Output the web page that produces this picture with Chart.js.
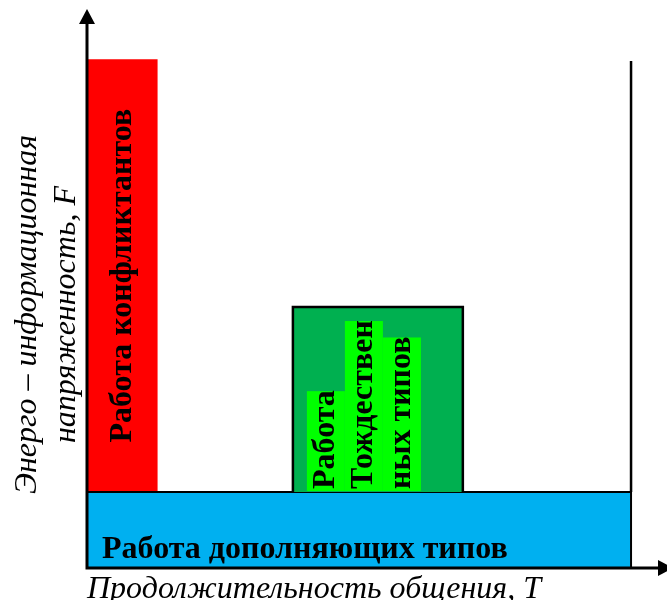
<!DOCTYPE html>
<html lang="ru">
<head>
<meta charset="utf-8">
<title>Энерго-информационная напряженность</title>
<script src="https://cdn.jsdelivr.net/npm/chart.js@4.4.1/dist/chart.umd.min.js"></script>
<style>
  html, body { margin: 0; padding: 0; background: #fff; }
  #wrap { width: 667px; height: 600px; }
</style>
</head>
<body>
<div id="wrap"><canvas id="chart"></canvas></div>
<script>
// zones of the diagram: x = T (0..100), y = F (0..100)
const zoneNames = ['Работа конфликтантов', 'Работа дополняющих типов', 'Работа Тождественных типов'];
const zoneStart = [0, 0, 35.5];
const zoneEnd = [12.2, 93.8, 64.8];
const zoneBase = [0, 0, 13.6];
const zoneTop = [91, 13.6, 46.7];
const zoneColors = ['#ff0000', '#00b0f0', '#00b050'];
const zoneBorders = [0, 2, 2.5];

// the text of the green zone, split in columns as in the original
const identityLines = ['Работа', 'Тождествен', 'ных типов'];

// right-hand boundary line
const boundaryT = [93.8, 93.8];
const boundaryF = [13.6, 90.7];

const yTitleLines = ['Энерго – информационная', 'напряженность, F'];
const xTitle = 'Продолжительность общения, T';

const SERIF = '"Liberation Serif", "Times New Roman", serif';

function zoneOutline(i) {
    return [
        { x: zoneStart[i], y: zoneBase[i] },
        { x: zoneStart[i], y: zoneTop[i] },
        { x: zoneEnd[i], y: zoneTop[i] },
        { x: zoneEnd[i], y: zoneBase[i] }
    ];
}

const datasets = zoneNames.map((name, i) => ({
    label: name,
    data: zoneOutline(i),
    showLine: true,
    backgroundColor: zoneColors[i],
    borderColor: '#000',
    borderWidth: zoneBorders[i],
    fill: { value: zoneBase[i] },
    order: 10 - i,
    clip: false
}));
datasets.push({
    label: 'граница',
    data: boundaryT.map((t, i) => ({ x: t, y: boundaryF[i] })),
    showLine: true,
    borderColor: '#000',
    borderWidth: 2.5,
    fill: false,
    order: 1,
    clip: false
});

const zoneLabels = {
    id: 'zoneLabels',
    afterDatasetsDraw(chart) {
        const { ctx, scales: { x, y } } = chart;
        ctx.save();
        ctx.font = 'bold 32px ' + SERIF;

        // red zone: vertical text centred in the part above the blue zone
        const rx = (x.getPixelForValue(zoneStart[0]) + x.getPixelForValue(zoneEnd[0])) / 2;
        const ry = (y.getPixelForValue(zoneTop[0]) + y.getPixelForValue(zoneTop[1])) / 2;
        ctx.save();
        ctx.translate(rx, ry);
        ctx.rotate(-Math.PI / 2);
        ctx.fillStyle = '#000';
        ctx.textAlign = 'center';
        ctx.textBaseline = 'middle';
        ctx.fillText(zoneNames[0], 0, 0);
        ctx.restore();

        // blue zone: bottom left
        ctx.fillStyle = '#000';
        ctx.textAlign = 'left';
        ctx.textBaseline = 'alphabetic';
        ctx.fillText(zoneNames[1], x.getPixelForValue(zoneStart[1]) + 15, y.getPixelForValue(zoneBase[1]) - 10);

        // green zone: highlighted columns of vertical text
        const lh = 38;
        const gx = x.getPixelForValue(zoneStart[2]) + 14;
        const gy = y.getPixelForValue(zoneBase[2]) - 1;
        identityLines.forEach((line, i) => {
            const cx = gx + lh * (i + 0.5);
            const w = ctx.measureText(line).width;
            ctx.fillStyle = '#00ff00';
            ctx.fillRect(cx - lh / 2, gy - w - 1, lh, w + 1);
            ctx.save();
            ctx.translate(cx, gy - 2);
            ctx.rotate(-Math.PI / 2);
            ctx.fillStyle = '#000';
            ctx.textAlign = 'left';
            ctx.textBaseline = 'middle';
            ctx.fillText(line, 0, 0);
            ctx.restore();
        });
        ctx.restore();
    }
};

const axesArrows = {
    id: 'axesArrows',
    afterDraw(chart) {
        const { ctx, chartArea: a } = chart;
        ctx.save();
        ctx.strokeStyle = '#000';
        ctx.fillStyle = '#000';
        ctx.lineWidth = 3;
        ctx.beginPath();
        ctx.moveTo(a.left, a.bottom);
        ctx.lineTo(a.left, a.top + 10);
        ctx.moveTo(a.left - 1.5, a.bottom);
        ctx.lineTo(a.right - 8, a.bottom);
        ctx.stroke();
        // arrow heads
        ctx.beginPath();
        ctx.moveTo(a.left, a.top);
        ctx.lineTo(a.left - 8, a.top + 15);
        ctx.lineTo(a.left + 8, a.top + 15);
        ctx.closePath();
        ctx.fill();
        ctx.beginPath();
        ctx.moveTo(a.right + 6, a.bottom);
        ctx.lineTo(a.right - 9, a.bottom - 8);
        ctx.lineTo(a.right - 9, a.bottom + 8);
        ctx.closePath();
        ctx.fill();

        // vertical axis title, two rotated lines
        ctx.font = 'italic 32px ' + SERIF;
        ctx.textAlign = 'center';
        ctx.textBaseline = 'middle';
        const cy = (a.top + a.bottom) / 2 + 26;
        yTitleLines.forEach((line, i) => {
            ctx.save();
            ctx.translate(a.left - 59 + i * 39, cy);
            ctx.rotate(-Math.PI / 2);
            ctx.fillText(line, 0, 0);
            ctx.restore();
        });
        ctx.restore();
    }
};

new Chart(document.getElementById('chart'), {
    type: 'scatter',
    data: { datasets: datasets },
    options: {
        responsive: true,
        maintainAspectRatio: false,
        animation: false,
        layout: { padding: { left: 87, top: 9, right: 0, bottom: 0 } },
        elements: { point: { radius: 0, hoverRadius: 0 }, line: { tension: 0 } },
        plugins: { legend: { display: false }, tooltip: { enabled: false } },
        scales: {
            x: {
                type: 'linear',
                min: 0,
                max: 100,
                ticks: { display: false },
                grid: { display: false, drawTicks: false },
                border: { display: false },
                title: {
                    display: true,
                    text: xTitle,
                    align: 'start',
                    color: '#000',
                    padding: { top: 6, bottom: -6 },
                    font: { family: SERIF, size: 32, style: 'italic', lineHeight: 1 }
                }
            },
            y: { type: 'linear', min: 0, max: 100, display: false }
        }
    },
    plugins: [zoneLabels, axesArrows]
});
</script>
</body>
</html>
